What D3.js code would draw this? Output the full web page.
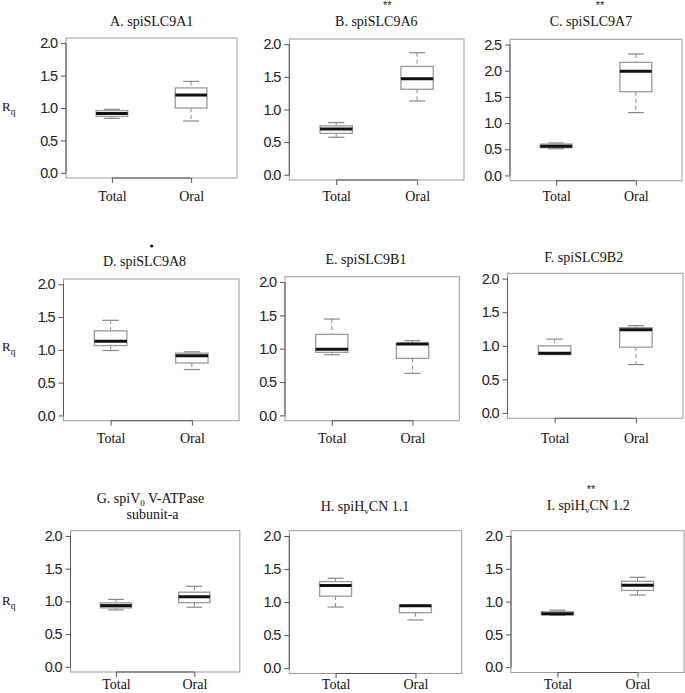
<!DOCTYPE html>
<html>
<head>
<meta charset="utf-8">
<script src="https://cdn.jsdelivr.net/npm/d3@7"></script>
<style>
  html, body { margin: 0; padding: 0; background: #fff; }
  svg { display: block; }
</style>
</head>
<body>
<script>
// ---------------- DATA ----------------
const groups = ["Total", "Oral"];
const panelLetters = ["A", "B", "C", "D", "E", "F", "G", "H", "I"];
const panelGenes = ["spiSLC9A1", "spiSLC9A6", "spiSLC9A7", "spiSLC9A8", "spiSLC9B1", "spiSLC9B2",
                    "spiV0 V-ATPase subunit-a", "spiHvCN 1.1", "spiHvCN 1.2"];
const significance = ["", "**", "**", "•", "", "", "", "", "**"];
const yMax = [2, 2, 2.5, 2, 2, 2, 2, 2, 2];
const yTicksStd = ["0.0", "0.5", "1.0", "1.5", "2.0"];
const yTicksC = ["0.0", "0.5", "1.0", "1.5", "2.0", "2.5"];
// five-number summaries [lower whisker, Q1, median, Q3, upper whisker]
const totalStats = [
  [0.84, 0.87, 0.915, 0.96, 0.98],
  [0.575, 0.635, 0.70, 0.75, 0.80],
  [0.51, 0.53, 0.56, 0.60, 0.62],
  [0.99, 1.065, 1.13, 1.29, 1.45],
  [0.91, 0.945, 0.99, 1.215, 1.445],
  [0.87, 0.87, 0.89, 1.00, 1.10],
  [0.87, 0.90, 0.935, 0.977, 1.03],
  [0.925, 1.09, 1.25, 1.31, 1.36],
  [0.79, 0.80, 0.815, 0.846, 0.87]
];
const oralStats = [
  [0.80, 1.00, 1.20, 1.31, 1.41],
  [1.13, 1.31, 1.47, 1.66, 1.87],
  [1.20, 1.60, 1.99, 2.16, 2.32],
  [0.70, 0.80, 0.91, 0.95, 0.97],
  [0.63, 0.855, 1.07, 1.08, 1.12],
  [0.72, 0.98, 1.24, 1.27, 1.30],
  [0.91, 0.98, 1.07, 1.14, 1.23],
  [0.73, 0.84, 0.945, 0.95, 0.95],
  [1.10, 1.17, 1.25, 1.31, 1.37]
];

// ---------------- LAYOUT ----------------
// frame [left, top, right, bottom]
const frames = [
  [66, 38, 237, 178], [289.3, 39, 464, 180], [510, 39.3, 682, 180.7],
  [63.5, 279, 239, 420.7], [285, 276.7, 459.3, 420.7], [507.5, 273.3, 683, 418.3],
  [70.5, 530.7, 239.8, 672], [289.3, 530.7, 461.7, 673.5], [511, 530.7, 684, 672.5]
];
const titlePos = [
  [151.7, 26], [376.3, 25.5], [591, 25.5],
  [144.5, 265.7], [366, 264.3], [583.7, 262.3],
  [150.5, 502.7], [365, 510.7], [588.3, 510]
];
const sigPos = [null, [387.3, 9], [600, 9], [151.7, 246], null, null, null, null, [591, 493]];
const xLabelY = [201, 201, 201, 443.3, 443.3, 443.3, 689, 689, 689];
const rqY = [111, 351, 605];

const W = 685, H = 693;
const svg = d3.select("body").append("svg").attr("width", W).attr("height", H);

const serif = "'Liberation Serif', 'Times New Roman', serif";
const sans = "'Liberation Sans', Arial, sans-serif";
const frameCol = "#9a9a9a", boxCol = "#9a9a9a", axisCol = "#555";

// R_q labels
rqY.forEach(y => {
  const t = svg.append("text").attr("x", 2).attr("y", y)
    .attr("font-family", serif).attr("font-size", 13).attr("fill", "#111");
  t.append("tspan").text("R");
  t.append("tspan").attr("dy", 3.5).attr("font-size", 9.5).text("q");
});

function writeTitle(sel, letter, gene, i) {
  const t = sel.append("text").attr("x", titlePos[i][0]).attr("y", titlePos[i][1])
    .attr("text-anchor", "middle").attr("font-family", serif).attr("font-size", 14).attr("fill", "#111");
  if (i === 6) {
    t.append("tspan").text(letter + ". spiV");
    t.append("tspan").attr("dy", 3).attr("font-size", 9).text("0");
    t.append("tspan").attr("dy", -3).text(" V-ATPase");
    sel.append("text").attr("x", titlePos[i][0] + 2).attr("y", titlePos[i][1] + 16.6)
      .attr("text-anchor", "middle").attr("font-family", serif).attr("font-size", 14).attr("fill", "#111")
      .text("subunit-a");
  } else if (i === 7 || i === 8) {
    const rest = gene.replace("spiHvCN", "");
    t.append("tspan").text(letter + ". spiH");
    t.append("tspan").attr("dy", 3).attr("font-size", 9).text("v");
    t.append("tspan").attr("dy", -3).text("CN" + rest);
  } else {
    t.text(letter + ". " + gene);
  }
}

panelLetters.forEach((letter, i) => {
  const [L, T, R, B] = frames[i];
  const ym = yMax[i];
  const pad = ym * 0.04;
  const y = d3.scaleLinear().domain([-pad, ym + pad]).range([B, T]);
  const x = d3.scaleLinear().domain([0.42, 2.58]).range([L, R]);
  const g = svg.append("g");
  const ticks = (ym === 2.5 ? yTicksC : yTicksStd);

  // frame
  g.append("rect").attr("x", L).attr("y", T).attr("width", R - L).attr("height", B - T)
    .attr("fill", "none").attr("stroke", frameCol).attr("stroke-width", 1);

  // y axis
  const yAxis = d3.axisLeft(y).tickValues(ticks.map(Number))
    .tickFormat((d, k) => ticks[k]).tickSize(5).tickPadding(4);
  const ya = g.append("g").attr("transform", `translate(${L},0)`).call(yAxis);
  ya.select(".domain").remove();
  ya.selectAll(".tick line").attr("stroke", axisCol);
  ya.selectAll(".tick text").attr("font-family", sans).attr("font-size", 14.5)
    .attr("letter-spacing", "-1.1").attr("fill", "#222");
  g.append("line").attr("x1", L).attr("x2", L).attr("y1", y(0)).attr("y2", y(ym))
    .attr("stroke", axisCol);

  // x axis
  const xAxis = d3.axisBottom(x).tickValues([1, 2]).tickFormat(d => groups[d - 1])
    .tickSize(5).tickPadding(0);
  const xa = g.append("g").attr("transform", `translate(0,${B})`).call(xAxis);
  xa.select(".domain").remove();
  xa.selectAll(".tick line").attr("stroke", axisCol);
  xa.selectAll(".tick text").attr("font-family", serif).attr("font-size", 14).attr("fill", "#111")
    .attr("dy", null).attr("y", xLabelY[i] - B);
  g.append("line").attr("x1", x(1)).attr("x2", x(2)).attr("y1", B).attr("y2", B)
    .attr("stroke", axisCol);

  // boxes
  [totalStats[i], oralStats[i]].forEach((s, k) => {
    const cx = x(k + 1);
    const bw = x(1.4) - x(1.0);
    const sw = bw / 2;
    const [lo, q1, md, q3, hi] = s;
    // whiskers (dashed)
    g.append("line").attr("x1", cx).attr("x2", cx).attr("y1", y(hi)).attr("y2", y(q3))
      .attr("stroke", "#888").attr("stroke-dasharray", "4,3");
    g.append("line").attr("x1", cx).attr("x2", cx).attr("y1", y(q1)).attr("y2", y(lo))
      .attr("stroke", "#888").attr("stroke-dasharray", "4,3");
    // staples
    [lo, hi].forEach(v => {
      g.append("line").attr("x1", cx - sw / 2).attr("x2", cx + sw / 2)
        .attr("y1", y(v)).attr("y2", y(v)).attr("stroke", "#888").attr("stroke-width", 1.2);
    });
    // box
    g.append("rect").attr("x", cx - bw / 2).attr("y", y(q3)).attr("width", bw)
      .attr("height", Math.max(0.5, y(q1) - y(q3)))
      .attr("fill", "#fff").attr("stroke", boxCol).attr("stroke-width", 1.3);
    // median
    g.append("line").attr("x1", cx - bw / 2).attr("x2", cx + bw / 2)
      .attr("y1", y(md)).attr("y2", y(md)).attr("stroke", "#111").attr("stroke-width", 3);
  });

  // title
  writeTitle(svg, letter, panelGenes[i], i);

  // significance
  if (significance[i] && sigPos[i]) {
    const [sx, sy] = sigPos[i];
    if (significance[i] === "•") {
      svg.append("circle").attr("cx", sx).attr("cy", sy).attr("r", 1.6).attr("fill", "#111");
    } else {
      svg.append("text").attr("x", sx).attr("y", sy).attr("text-anchor", "middle")
        .attr("font-family", sans).attr("font-size", 11).attr("fill", "#222").text(significance[i]);
    }
  }
});
</script>
</body>
</html>
